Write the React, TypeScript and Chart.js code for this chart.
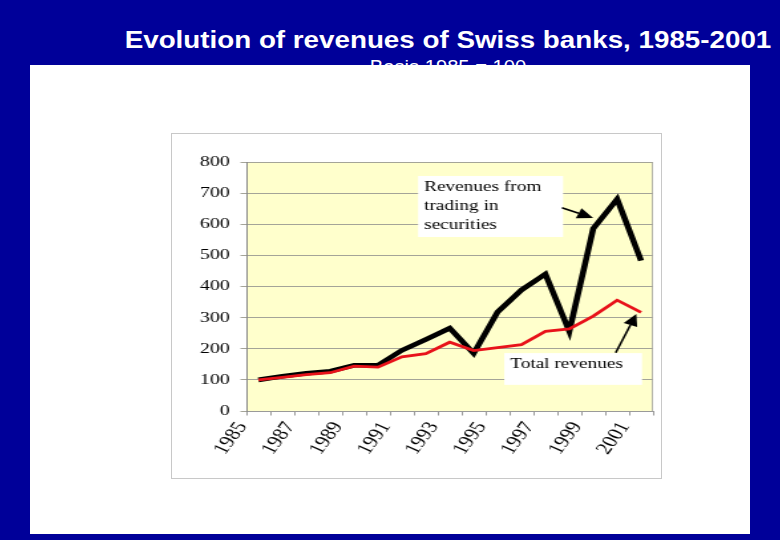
import { useEffect, useRef } from 'react';
import { Chart, registerables } from 'chart.js';

Chart.register(...registerables);

// Index 1985 = 100.
const years = [
  '1985', '1986', '1987', '1988', '1989', '1990', '1991', '1992', '1993',
  '1994', '1995', '1996', '1997', '1998', '1999', '2000', '2001',
];
const tradingRevenues = [100, 112, 121, 128, 147, 147, 195, 230, 266, 185, 318, 389, 440, 256, 586, 681, 483];
const totalRevenues = [100, 108, 117, 123, 144, 141, 174, 184, 221, 194, 204, 213, 256, 264, 305, 356, 317];

const yMin = 0;
const yMax = 800;
const yStep = 100;

const tradingNote = ['Revenues from', 'trading in', 'securities'];
const totalNote = ['Total revenues'];

const SERIF = '"Liberation Serif", "Times New Roman", serif';

// the slide picture is stretched sideways, so the canvas is too
const CANVAS_W = 368;
const CANVAS_H = 344;
const SHOWN_W = 489;

type Pt = [number, number];

function toPx(chart: Chart, i: number, v: number): Pt {
  return [chart.scales.x.getPixelForValue(i), chart.scales.y.getPixelForValue(v)];
}

function drawArrow(ctx: CanvasRenderingContext2D, from: Pt, to: Pt) {
  const ang = Math.atan2(to[1] - from[1], to[0] - from[0]);
  const head = 12;
  const half = 5.5;
  const bx = to[0] - head * Math.cos(ang);
  const by = to[1] - head * Math.sin(ang);
  ctx.strokeStyle = '#000';
  ctx.lineWidth = 1.6;
  ctx.beginPath();
  ctx.moveTo(from[0], from[1]);
  ctx.lineTo(bx, by);
  ctx.stroke();
  ctx.fillStyle = '#000';
  ctx.beginPath();
  ctx.moveTo(to[0], to[1]);
  ctx.lineTo(bx - half * Math.sin(ang), by + half * Math.cos(ang));
  ctx.lineTo(bx + half * Math.sin(ang), by - half * Math.cos(ang));
  ctx.closePath();
  ctx.fill();
}

function drawNote(ctx: CanvasRenderingContext2D, tl: Pt, br: Pt, lines: string[], lineGap: number) {
  ctx.fillStyle = '#fff';
  ctx.fillRect(tl[0], tl[1], br[0] - tl[0], br[1] - tl[1]);
  ctx.fillStyle = '#000';
  ctx.font = `14.5px ${SERIF}`;
  ctx.textAlign = 'left';
  ctx.textBaseline = 'alphabetic';
  lines.forEach((s, k) => ctx.fillText(s, tl[0] + 4.5, tl[1] + 14.5 + k * lineGap));
}

const slideDecor = {
  id: 'slideDecor',
  beforeDraw(chart: Chart) {
    const { ctx, chartArea: a } = chart;
    ctx.save();
    ctx.fillStyle = '#ffffcc';
    ctx.fillRect(a.left, a.top, a.right - a.left, a.bottom - a.top);
    ctx.strokeStyle = '#b4b4a8';
    ctx.lineWidth = 1;
    ctx.beginPath();
    ctx.moveTo(a.right - 0.5, a.top);
    ctx.lineTo(a.right - 0.5, a.bottom);
    ctx.stroke();
    ctx.restore();
  },
  afterDraw(chart: Chart) {
    const { ctx } = chart;
    ctx.save();
    // annotation boxes and arrows, placed in (category index, value) space
    drawNote(ctx, toPx(chart, 6.68, 755), toPx(chart, 12.74, 559), tradingNote, 19);
    drawArrow(ctx, toPx(chart, 12.69, 653), toPx(chart, 14.0, 620));
    drawNote(ctx, toPx(chart, 10.28, 186), toPx(chart, 16.04, 84), totalNote, 19);
    drawArrow(ctx, toPx(chart, 14.94, 187), toPx(chart, 15.8, 312));
    ctx.restore();
  },
};

function RevenueChart() {
  const canvasRef = useRef<HTMLCanvasElement>(null);
  const chartRef = useRef<Chart | null>(null);

  useEffect(() => {
    if (!canvasRef.current) return;
    Chart.defaults.font.family = SERIF;

    chartRef.current = new Chart(canvasRef.current, {
      type: 'line',
      data: {
        labels: years,
        datasets: [
          {
            label: 'Total revenues',
            data: totalRevenues,
            borderColor: '#e8121a',
            borderWidth: 2.8,
            pointRadius: 0,
            tension: 0,
          },
          {
            label: 'Revenues from trading in securities',
            data: tradingRevenues,
            borderColor: '#000',
            borderWidth: 4.6,
            pointRadius: 0,
            tension: 0,
          },
        ],
      },
      plugins: [slideDecor],
      options: {
        animation: false,
        responsive: false,
        layout: { padding: { top: 28, right: 6, left: 0, bottom: 0 } },
        plugins: {
          legend: { display: false },
          tooltip: { enabled: false },
        },
        scales: {
          x: {
            offset: true,
            grid: { offset: true, drawOnChartArea: false, tickLength: 4.5, color: '#9a9a9a' },
            border: { color: '#9a9a9a' },
            ticks: {
              autoSkip: false,
              minRotation: 60,
              maxRotation: 60,
              padding: 3,
              labelOffset: -12,
              color: '#000',
              font: { size: 17, family: SERIF },
              callback: (_v, i) => (i % 2 === 0 ? years[i] : ''),
            },
            afterFit: (s) => {
              s.height = 67;
              s.paddingLeft = 0;
              s.paddingRight = 0;
            },
          },
          y: {
            min: yMin,
            max: yMax,
            grid: { color: '#a4a498', tickLength: 4.5 },
            border: { color: '#888' },
            ticks: {
              stepSize: yStep,
              padding: 8,
              color: '#000',
              font: { size: 15, family: SERIF },
            },
            afterFit: (s) => {
              s.width = 56;
            },
          },
        },
      },
    });

    return () => {
      chartRef.current?.destroy();
    };
  }, []);

  return (
    <canvas
      ref={canvasRef}
      width={CANVAS_W}
      height={CANVAS_H}
      style={{ width: SHOWN_W, height: CANVAS_H, display: 'block' }}
      role="img"
      aria-label="Line chart of Swiss bank revenues, 1985 = 100: total revenues and revenues from trading in securities, 1985-2001."
    />
  );
}

export default function App() {
  return (
    <div
      style={{
        position: 'fixed',
        left: 0,
        top: 0,
        width: 780,
        height: 540,
        background: '#000099',
        overflow: 'hidden',
        fontFamily: '"Liberation Sans", Arial, sans-serif',
        color: '#fff',
      }}
    >
      <div
        style={{
          position: 'absolute',
          left: 48,
          top: 27.7,
          width: 800,
          textAlign: 'center',
          fontWeight: 'bold',
          fontSize: 24,
          lineHeight: '24px',
          whiteSpace: 'nowrap',
          transform: 'scaleX(1.157)',
        }}
      >
        Evolution of revenues of Swiss banks, 1985-2001
      </div>
      <div style={{ position: 'absolute', left: 48, top: 50, width: 800, height: 15, overflow: 'hidden' }}>
        <div
          style={{
            position: 'absolute',
            left: 0,
            top: 7.7,
            width: 800,
            textAlign: 'center',
            fontSize: 18,
            lineHeight: '18px',
            whiteSpace: 'nowrap',
            transform: 'scaleX(1.12)',
          }}
        >
          Basis 1985 = 100
        </div>
      </div>
      <div style={{ position: 'absolute', left: 30, top: 65, width: 720, height: 469, background: '#fff' }} />
      <div
        style={{
          position: 'absolute',
          left: 171,
          top: 133,
          width: 491,
          height: 346,
          border: '1px solid #c8c8c8',
          boxSizing: 'border-box',
          background: '#fff',
        }}
      >
        <RevenueChart />
      </div>
    </div>
  );
}
